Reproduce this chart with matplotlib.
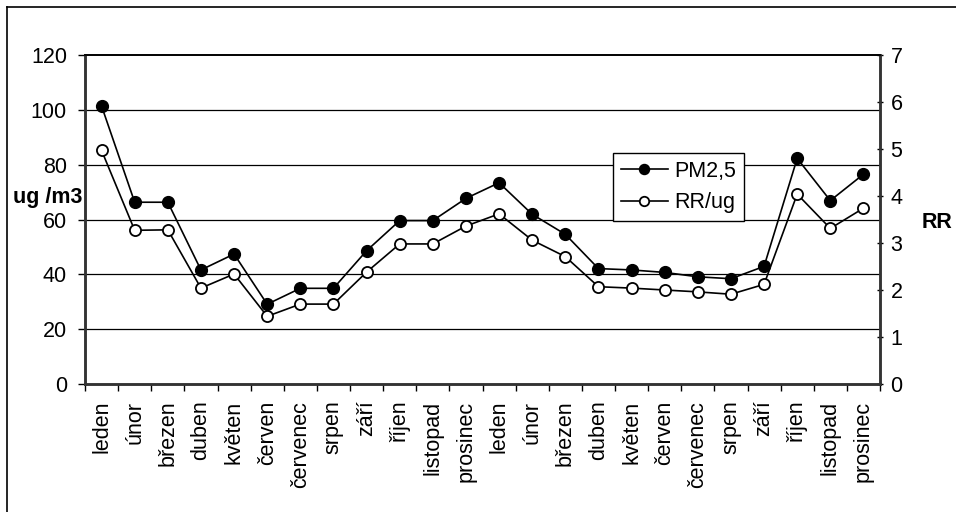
import matplotlib
matplotlib.use("Agg")
import matplotlib.pyplot as plt
from matplotlib.lines import Line2D
import numpy as np

months = ["leden", "únor", "březen", "duben", "květen", "červen", "červenec",
          "srpen", "září", "říjen", "listopad", "prosinec",
          "leden", "únor", "březen", "duben", "květen", "červen", "červenec",
          "srpen", "září", "říjen", "listopad", "prosinec"]
pm25 = [101.4, 66.3, 66.3, 41.6, 47.4, 29.1, 34.9, 34.9, 48.6, 59.6, 59.6, 67.7,
        73.4, 61.9, 54.6, 42.1, 41.6, 40.7, 39.1, 38.4, 42.9, 82.3, 66.9, 76.5]
rr_ug = [4.97, 3.27, 3.28, 2.04, 2.34, 1.44, 1.70, 1.70, 2.38, 2.98, 2.98, 3.36,
         3.62, 3.06, 2.71, 2.07, 2.04, 2.00, 1.96, 1.91, 2.12, 4.04, 3.31, 3.74]
left_ticks = [0, 20, 40, 60, 80, 100, 120]
right_ticks = [0, 1, 2, 3, 4, 5, 6, 7]

plt.rcParams['font.family'] = ['Liberation Sans', 'DejaVu Sans']
FS = 15.5

fig = plt.figure(figsize=(9.56, 5.12), dpi=100)
ax = fig.add_axes([85/956, 1-384/512, (880-85)/956, (384-55)/512])
ax2 = ax.twinx()

x = np.arange(len(months))
l1, = ax.plot(x, pm25, color='black', lw=1.2, marker='o', ms=8.5,
              mfc='black', mec='black', zorder=5)
l2, = ax2.plot(x, rr_ug, color='black', lw=1.2, marker='o', ms=8,
               mfc='white', mec='black', mew=1.3, zorder=5)

ax.set_xlim(-0.5, len(months) - 0.5)
ax.set_ylim(0, 120)
ax2.set_ylim(0, 7)
ax.set_yticks(left_ticks)
ax2.set_yticks(right_ticks)
ax.set_yticklabels([str(t) for t in left_ticks], fontsize=FS)
ax2.set_yticklabels([str(t) for t in right_ticks], fontsize=FS)

ax.set_xticks(np.arange(-0.5, len(months)), minor=False)
ax.set_xticklabels([])
ax.set_xticks(x, minor=True)
ax.set_xticklabels(months, minor=True, rotation=90, fontsize=FS, va='top')
ax.tick_params(axis='x', which='major', length=5, width=1, direction='out', color='black')
ax.tick_params(axis='x', which='minor', length=0, pad=12)
ax.tick_params(axis='y', length=5, width=1, direction='out', pad=8)
ax2.tick_params(axis='y', length=5, width=1, direction='inout', pad=5)

for yv in left_ticks[1:-1]:
    ax.axhline(yv, color='black', lw=0.9, zorder=1)

for a in (ax, ax2):
    for s in ('left', 'right', 'bottom'):
        a.spines[s].set_linewidth(1.8)
        a.spines[s].set_color('#333333')
    a.spines['top'].set_linewidth(1.2)
    a.spines['top'].set_color('black')

fig.text(48/956, 1-198/512, "ug /m3", fontsize=FS, fontweight='bold',
         ha='center', va='center')
fig.text(937/956, 1-223/512, "RR", fontsize=FS, fontweight='bold',
         ha='center', va='center')

ax2.set_zorder(ax.get_zorder() + 1)
ax2.patch.set_visible(False)

leg = ax2.legend([l1, l2], ["PM2,5", "RR/ug"], loc='upper left',
                 bbox_to_anchor=((613-85)/795, 1-(153-55)/329), fontsize=FS,
                 frameon=True, fancybox=False, edgecolor='black', framealpha=1,
                 handlelength=2.2, handletextpad=0.3, borderpad=0.35,
                 labelspacing=0.5, borderaxespad=0, markerscale=0.85)
leg.get_frame().set_linewidth(1.0)
leg.set_zorder(20)

# outer frame (top and left visible)
fig.add_artist(Line2D([7/956, 1], [1-7/512, 1-7/512], color='black', lw=1.2,
                      transform=fig.transFigure))
fig.add_artist(Line2D([7/956, 7/956], [0, 1-7/512], color='black', lw=1.2,
                      transform=fig.transFigure))

fig.savefig("out.png", dpi=100)
